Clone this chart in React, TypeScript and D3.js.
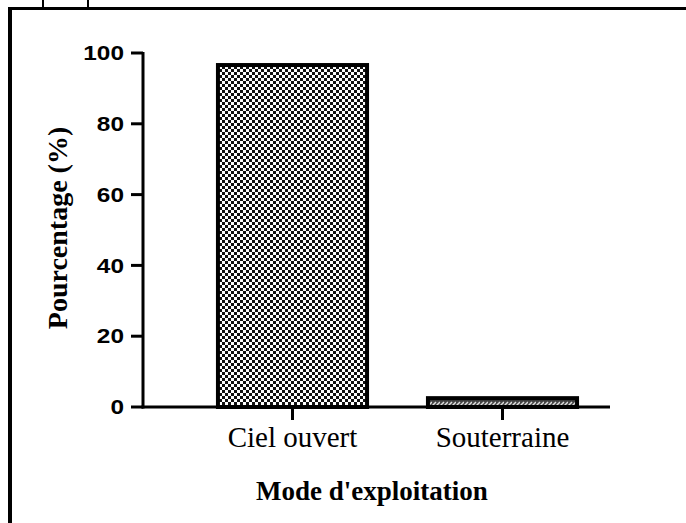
import React from "react";
import * as d3 from "d3";

const categories = ["Ciel ouvert", "Souterraine"];
const values = [96.6, 2.5];
const yTicks = [0, 20, 40, 60, 80, 100];
const yTitle = "Pourcentage (%)";
const xTitle = "Mode d'exploitation";

export default function App() {
  const W = 686, H = 523;
  const y = d3.scaleLinear().domain([0, 100]).range([407, 53]);
  const x = d3.scaleBand<string>().domain(categories).range([187.5, 607.5]).paddingInner(0.29).paddingOuter(0.145);
  const axisX0 = 143, axisX1 = 610;
  const fills = ["url(#checker)", "url(#hatch)"];
  const serif = "Liberation Serif, Times New Roman, serif";
  return (
    <svg width={W} height={H} style={{ position: "absolute", left: 0, top: 0, background: "#fff" }}>
      <defs>
        <pattern id="checker" width="6" height="6" patternUnits="userSpaceOnUse">
          <rect width="6" height="6" fill="#fff" />
          <rect x="0" y="0" width="3" height="3" fill="#111" />
          <rect x="3" y="3" width="3" height="3" fill="#111" />
        </pattern>
        <pattern id="hatch" width="8" height="8" patternUnits="userSpaceOnUse">
          <rect width="8" height="8" fill="#444" />
          <path d="M0,6 L4,2 M4,6 L8,2" stroke="#ddd" strokeWidth="1.5" />
        </pattern>
      </defs>
      {/* frame */}
      <line x1={10} y1={8.5} x2={686} y2={8.5} stroke="#000" strokeWidth={3} />
      <line x1={10} y1={7} x2={10} y2={523} stroke="#000" strokeWidth={4} />
      <line x1={43} y1={0} x2={43} y2={8} stroke="#000" strokeWidth={2} />
      <line x1={88} y1={0} x2={88} y2={8} stroke="#000" strokeWidth={2} />

      {/* bars */}
      {categories.map((c, i) => (
        <rect key={c} x={(x(c) as number)} y={y(values[i])} width={x.bandwidth()}
          height={y(0) - y(values[i])} fill={fills[i]} stroke="#000" strokeWidth={4} />
      ))}

      {/* y axis */}
      <line x1={axisX0} y1={y(100) - 1} x2={axisX0} y2={y(0) + 1.5} stroke="#000" strokeWidth={3} />
      {yTicks.map(t => (
        <g key={t}>
          <line x1={131} y1={y(t)} x2={axisX0} y2={y(t)} stroke="#000" strokeWidth={3} />
          <g transform={`translate(124,${y(t)}) scale(1.22,1)`}>
            <text x={0} y={0} dy="0.36em" textAnchor="end" fontFamily="Liberation Sans, Arial, sans-serif"
              fontWeight="bold" fontSize={20}>{t}</text>
          </g>
        </g>
      ))}
      <text transform={`translate(67,228) rotate(-90)`} textAnchor="middle" fontFamily={serif}
        fontWeight="bold" fontSize={28}>{yTitle}</text>

      {/* x axis */}
      <line x1={axisX0 - 1.5} y1={y(0)} x2={axisX1} y2={y(0)} stroke="#000" strokeWidth={3} />
      {categories.map(c => {
        const cx = (x(c) as number) + x.bandwidth() / 2;
        return (
          <g key={c}>
            <line x1={cx} y1={y(0)} x2={cx} y2={420} stroke="#000" strokeWidth={3} />
            <text x={cx} y={447} textAnchor="middle" fontFamily={serif} fontSize={29}>{c}</text>
          </g>
        );
      })}
      <text x={372} y={500} textAnchor="middle" fontFamily={serif}
        fontWeight="bold" fontSize={27}>{xTitle}</text>
    </svg>
  );
}
